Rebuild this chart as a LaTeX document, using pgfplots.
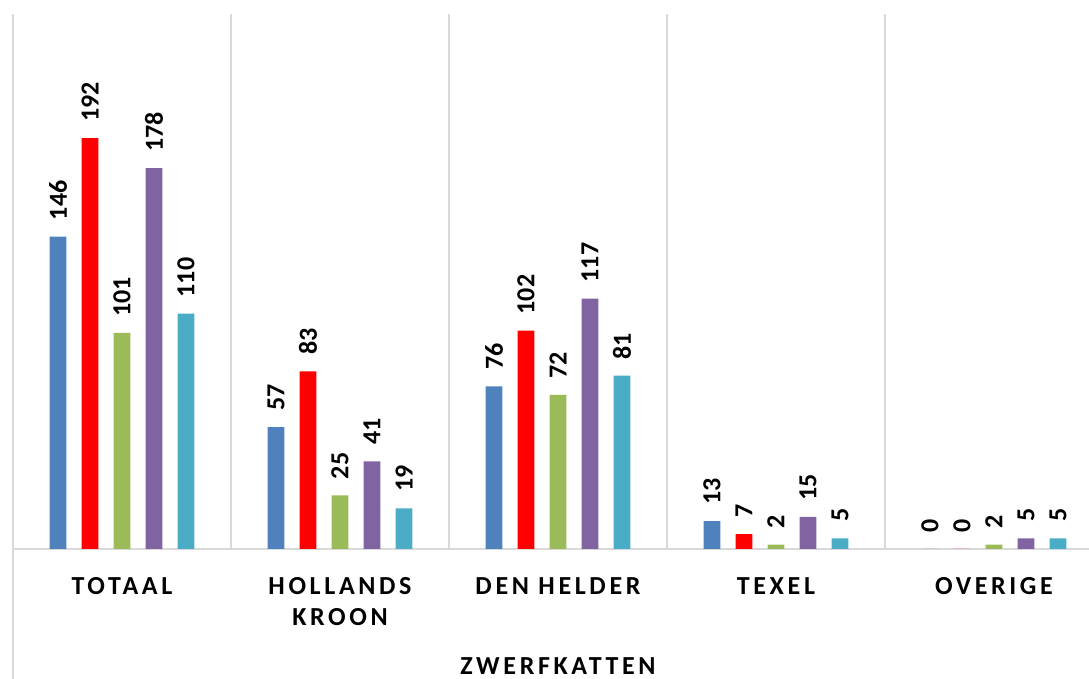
\documentclass[border=0pt]{standalone}
\usepackage{pgfplots}
\pgfplotsset{compat=1.18}
\usepackage{fontspec}
\setmainfont{Carlito}
\newfontfamily\spaced[LetterSpace=14]{Carlito}

\definecolor{sBlue}{HTML}{4F81BD}
\definecolor{sRed}{HTML}{FF0000}
\definecolor{sGreen}{HTML}{9BBB59}
\definecolor{sPurple}{HTML}{8064A2}
\definecolor{sCyan}{HTML}{4BACC6}
\definecolor{gridcol}{HTML}{D9D9D9}

\begin{document}
\begin{tikzpicture}
\begin{axis}[
  name=ax,
  scale only axis,
  width=538pt, height=267.5pt,
  xmin=-0.5, xmax=4.436, ymin=0, ymax=250,
  axis x line*=bottom, axis y line*=left,
  axis line style={draw=gridcol, line width=0.8pt},
  ytick=\empty,
  xtick={0,1,2,3,4},
  xticklabels={TOTAAL, HOLLANDS\\KROON, DEN HELDER, TEXEL, OVERIGE},
  major tick length=0pt,
  minor xtick={0.5,1.5,2.5,3.5},
  minor tick length=0pt,
  xminorgrids,
  minor grid style={draw=gridcol, line width=0.8pt},
  xticklabel style={font=\fontsize{13}{15.5}\selectfont\spaced\bfseries,
    align=center, anchor=north, inner sep=0pt, yshift=-14pt},
  ybar=7.65pt, bar width=8.35pt,
  /pgf/number format/assume math mode=true,
  nodes near coords,
  nodes near coords style={font=\fontsize{13}{15}\selectfont\bfseries, text=black,
    rotate=90, anchor=west, inner xsep=8pt, inner ysep=0pt},
  clip=false,
]
% blauw
\addplot[fill=sBlue, draw=none] coordinates {(0,146) (1,57) (2,76) (3,13) (4,0)};
% rood
\addplot[fill=sRed, draw=none] coordinates {(0,192) (1,83) (2,102) (3,7) (4,0)};
% groen
\addplot[fill=sGreen, draw=none] coordinates {(0,101) (1,25) (2,72) (3,2) (4,2)};
% paars
\addplot[fill=sPurple, draw=none] coordinates {(0,178) (1,41) (2,117) (3,15) (4,5)};
% cyaan
\addplot[fill=sCyan, draw=none] coordinates {(0,110) (1,19) (2,81) (3,5) (4,5)};
\node[anchor=north, inner sep=0pt, yshift=-54pt,
  font=\fontsize{13}{15.5}\selectfont\spaced\bfseries] at (axis cs:2,0) {ZWERFKATTEN};
\end{axis}
\draw[gridcol, line width=0.8pt] (ax.south west) -- ++(0,-65pt);
\pgfresetboundingbox
\useasboundingbox ([shift={(-6.5pt,7pt)}]ax.north west) rectangle ([yshift=-65pt]ax.south east);
\end{tikzpicture}
\end{document}
